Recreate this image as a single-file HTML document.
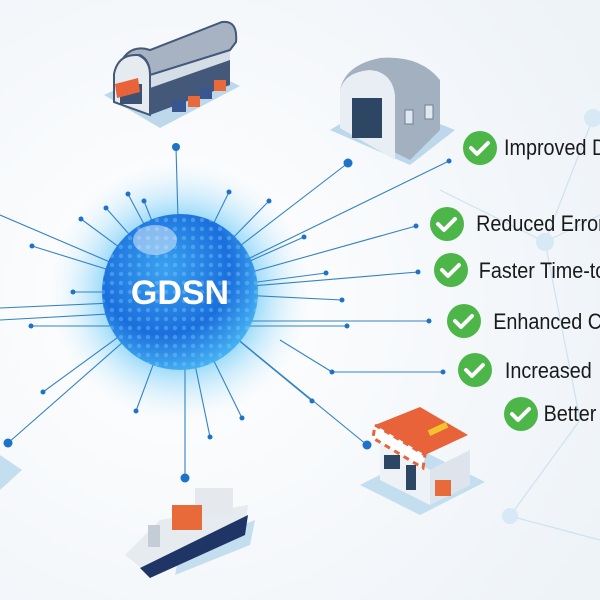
<!DOCTYPE html>
<html><head><meta charset="utf-8"><style>
html,body{margin:0;padding:0;width:600px;height:600px;overflow:hidden;background:#f4f7fb}
svg{display:block}
text{font-family:"Liberation Sans",sans-serif}
</style></head><body>
<svg width="600" height="600" viewBox="0 0 600 600" xmlns="http://www.w3.org/2000/svg">
<defs>
<radialGradient id="bg" cx="0.3" cy="0.5" r="0.8"><stop offset="0" stop-color="#ffffff"/><stop offset="1" stop-color="#eef3f8"/></radialGradient>
<radialGradient id="glow" cx="0.5" cy="0.5" r="0.5"><stop offset="0.55" stop-color="#5cc4f7" stop-opacity="0.7"/><stop offset="1" stop-color="#d6effc" stop-opacity="0"/></radialGradient>
<radialGradient id="sph" cx="0.4" cy="0.35" r="0.7"><stop offset="0" stop-color="#3aa2f0"/><stop offset="0.6" stop-color="#1a6fdc"/><stop offset="1" stop-color="#4ab8f5"/></radialGradient>
<pattern id="dots" width="9" height="9" patternUnits="userSpaceOnUse"><circle cx="4" cy="4" r="2.2" fill="#8fd0ff" opacity="0.35"/></pattern>
</defs>
<rect width="600" height="600" fill="url(#bg)"/>
<g stroke="#cfe2f0" stroke-width="1.2" fill="#d6e9f5">
<line x1="593" y1="118" x2="545" y2="242"/><line x1="545" y1="242" x2="600" y2="215"/><line x1="545" y1="242" x2="580" y2="420"/><line x1="510" y1="516" x2="580" y2="420"/><line x1="510" y1="516" x2="600" y2="540"/><line x1="440" y1="190" x2="545" y2="242"/>
<circle cx="593" cy="118" r="9" stroke="none"/><circle cx="545" cy="242" r="9" stroke="none"/><circle cx="510" cy="516" r="8" stroke="none"/>
</g>
<circle cx="180" cy="292" r="130" fill="url(#glow)"/>
<g stroke="#3583c4" stroke-width="1.1" fill="#1e72c9">
<line x1="180" y1="292" x2="176" y2="147"/><line x1="180" y1="292" x2="348" y2="163"/><line x1="180" y1="292" x2="449" y2="161"/>
<line x1="180" y1="292" x2="416" y2="226"/><line x1="180" y1="292" x2="304" y2="237"/><line x1="180" y1="292" x2="269" y2="201"/>
<line x1="180" y1="292" x2="229" y2="192"/><line x1="180" y1="292" x2="128" y2="194"/><line x1="180" y1="292" x2="144" y2="201"/>
<line x1="180" y1="292" x2="106" y2="208"/><line x1="180" y1="292" x2="81" y2="219"/><line x1="180" y1="292" x2="32" y2="246"/>
<line x1="180" y1="292" x2="73" y2="292"/><line x1="180" y1="292" x2="418" y2="272"/><line x1="180" y1="292" x2="326" y2="273"/>
<line x1="180" y1="292" x2="342" y2="300"/><line x1="180" y1="321" x2="429" y2="321"/><line x1="180" y1="326" x2="347" y2="326"/>
<line x1="180" y1="326" x2="31" y2="326"/><line x1="280" y1="340" x2="332" y2="372"/><line x1="332" y1="372" x2="443" y2="372"/>
<line x1="180" y1="292" x2="312" y2="401"/><line x1="180" y1="292" x2="242" y2="418"/><line x1="180" y1="292" x2="210" y2="437"/>
<line x1="180" y1="292" x2="136" y2="411"/><line x1="180" y1="292" x2="43" y2="392"/><line x1="180" y1="292" x2="8" y2="443"/>
<line x1="180" y1="292" x2="367" y2="445"/><line x1="185" y1="292" x2="185" y2="478"/>
<line x1="180" y1="292" x2="0" y2="215"/><line x1="180" y1="300" x2="0" y2="308"/><line x1="180" y1="310" x2="0" y2="320"/>
<g stroke="none">
<circle cx="176" cy="147" r="4"/><circle cx="348" cy="163" r="4.5"/><circle cx="449" cy="161" r="2.5"/><circle cx="416" cy="226" r="2.5"/><circle cx="304" cy="237" r="2.5"/><circle cx="269" cy="201" r="2.5"/><circle cx="229" cy="192" r="2.5"/><circle cx="128" cy="194" r="2.5"/><circle cx="144" cy="201" r="2.5"/><circle cx="106" cy="208" r="2.5"/><circle cx="81" cy="219" r="2.5"/><circle cx="32" cy="246" r="2.5"/><circle cx="73" cy="292" r="2.5"/><circle cx="418" cy="272" r="2.5"/><circle cx="326" cy="273" r="2.5"/><circle cx="342" cy="300" r="2.5"/><circle cx="429" cy="321" r="2.5"/><circle cx="347" cy="326" r="2.5"/><circle cx="31" cy="326" r="2.5"/><circle cx="443" cy="372" r="2.5"/><circle cx="332" cy="372" r="2.5"/><circle cx="312" cy="401" r="2.5"/><circle cx="242" cy="418" r="2.5"/><circle cx="210" cy="437" r="2.5"/><circle cx="136" cy="411" r="2.5"/><circle cx="43" cy="392" r="2.5"/><circle cx="8" cy="443" r="4.5"/><circle cx="367" cy="445" r="4.5"/><circle cx="185" cy="478" r="4.5"/>
</g>
</g>
<circle cx="180" cy="292" r="78" fill="url(#sph)"/>
<circle cx="180" cy="292" r="78" fill="url(#dots)"/>
<ellipse cx="155" cy="240" rx="22" ry="15" fill="#ffffff" opacity="0.45"/>
<text x="180" y="304" text-anchor="middle" font-size="34" font-weight="bold" fill="#fff">GDSN</text>
<!-- warehouse top -->
<g>
<polygon points="104,95 160,128 240,86 182,58" fill="#bcd8ea"/>
<path d="M150,75 L230,50 L230,85 L150,115 Z" fill="#44587a"/>
<path d="M150,75 L230,50 L230,60 L150,88 Z" fill="#d5dde6"/>
<path d="M122,60 Q132,44 150,50 L222,22 Q238,20 236,42 L230,50 L150,75 Q150,60 140,55 Z" fill="#a7b3c2" stroke="#44587a" stroke-width="2"/>
<path d="M114,102 L114,74 Q118,54 138,55 Q150,60 150,75 L150,115 Z" fill="#e6ebf0" stroke="#44587a" stroke-width="2"/>
<rect x="120" y="84" width="22" height="20" fill="#3b5272"/>
<polygon points="115,84 138,78 140,92 117,98" fill="#e8633a"/>
<rect x="172" y="100" width="14" height="12" fill="#3a5690"/><rect x="188" y="96" width="12" height="11" fill="#e8693a"/><rect x="200" y="88" width="12" height="11" fill="#3a5690"/><rect x="214" y="80" width="12" height="11" fill="#e8693a"/>
</g>
<!-- hangar -->
<g>
<polygon points="330,130 410,165 455,130 380,100" fill="#bcd8ea"/>
<path d="M340,90 Q345,65 380,58 Q420,55 440,80 L440,130 L410,160 L340,125 Z" fill="#a3b0c0"/>
<path d="M340,90 Q345,72 370,70 Q392,72 395,95 L395,160 L340,128 Z" fill="#e8eef4"/>
<rect x="352" y="98" width="30" height="40" fill="#2d4663"/>
<rect x="405" y="110" width="8" height="14" fill="#dfe8f0" stroke="#6c7f96"/><rect x="425" y="105" width="8" height="14" fill="#dfe8f0" stroke="#6c7f96"/>
</g>
<!-- store -->
<g>
<polygon points="360,485 420,515 485,482 425,452" fill="#c3deef"/>
<polygon points="380,440 430,470 470,450 470,485 430,505 380,480" fill="#eef2f6"/>
<polygon points="430,470 470,450 470,485 430,505" fill="#dde4ec"/>
<polygon points="375,425 425,455 468,435 420,407" fill="#e8633a"/>
<polygon points="375,425 425,455 423,468 373,438" fill="#fff" stroke="#e8633a" stroke-width="3" stroke-dasharray="6 5"/>
<rect x="384" y="455" width="16" height="14" fill="#2d4663"/><rect x="406" y="465" width="10" height="25" fill="#2d4663"/>
<rect x="428" y="426" width="20" height="6" fill="#f4c22c" transform="rotate(-25 438 429)"/>
<rect x="435" y="480" width="16" height="16" fill="#e8693a"/>
</g>
<!-- ship -->
<g>
<polygon points="175,575 250,545 255,520 180,550" fill="#c3deef"/>
<polygon points="125,555 150,575 245,530 248,505 160,520" fill="#e6ebf0"/>
<polygon points="140,568 150,578 245,535 248,515" fill="#1e3566"/>
<rect x="195" y="488" width="38" height="28" fill="#e5e9ee"/>
<rect x="172" y="505" width="30" height="25" fill="#e8693a"/>
<rect x="148" y="525" width="12" height="22" fill="#c4ccd5"/>
</g>
<polygon points="0,455 22,470 0,490" fill="#c3deef"/>
<g>
<g fill="#4cb648">
<circle cx="480" cy="148" r="17"/><circle cx="447" cy="224" r="17"/><circle cx="451" cy="270" r="17"/><circle cx="464" cy="321" r="17"/><circle cx="475" cy="370" r="17"/><circle cx="521" cy="414" r="17"/>
</g>
<g fill="none" stroke="#fff" stroke-width="4" stroke-linecap="round" stroke-linejoin="round">
<path d="M471,148 l6,6 l11,-11"/><path d="M438,224 l6,6 l11,-11"/><path d="M442,270 l6,6 l11,-11"/><path d="M455,321 l6,6 l11,-11"/><path d="M466,370 l6,6 l11,-11"/><path d="M512,414 l6,6 l11,-11"/>
</g>
<g font-size="22" fill="#1a1a1a" transform="scale(0.9 1)">
<text x="560" y="155">Improved Data</text>
<text x="529" y="231">Reduced Errors</text>
<text x="532" y="278">Faster Time-to</text>
<text x="548" y="329">Enhanced C</text>
<text x="561" y="378">Increased</text>
<text x="604" y="421">Better</text>
</g>
</g>
</svg>
</body></html>
